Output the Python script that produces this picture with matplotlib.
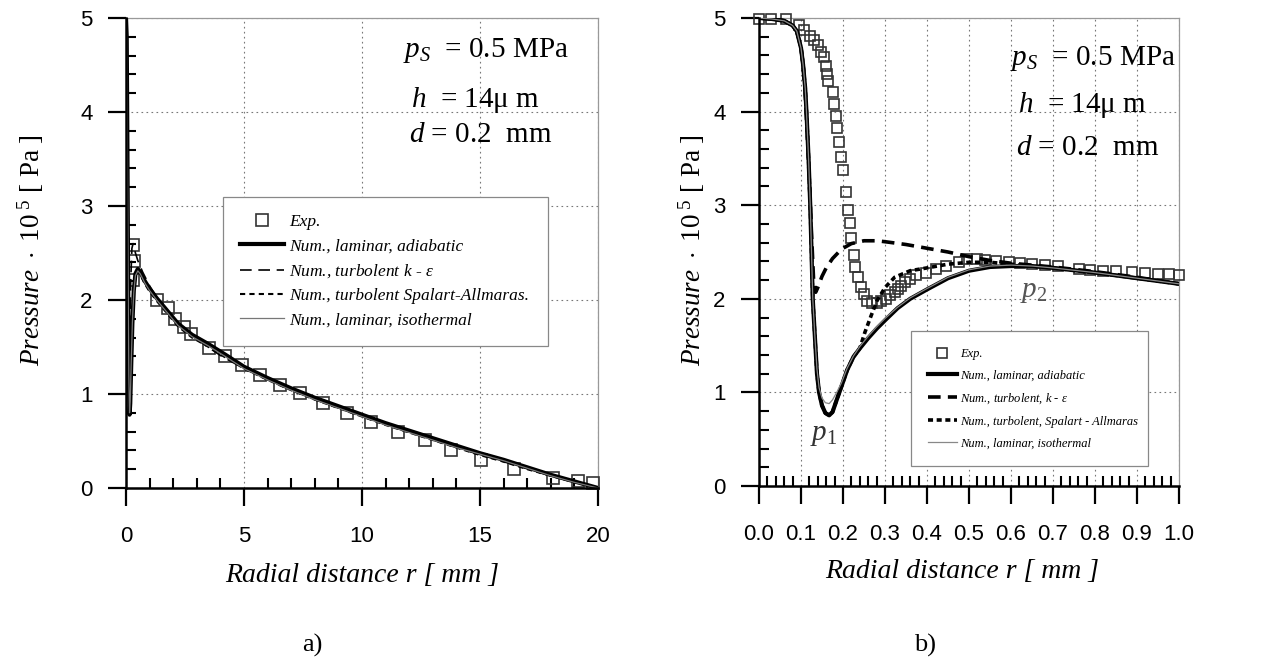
import matplotlib
matplotlib.use("Agg")
import matplotlib.pyplot as plt
from matplotlib.ticker import MultipleLocator, FormatStrFormatter

plt.rcParams['font.family'] = ['Liberation Sans', 'DejaVu Sans']
plt.rcParams['mathtext.fontset'] = 'custom'
plt.rcParams['mathtext.rm'] = 'Liberation Serif'
plt.rcParams['mathtext.it'] = 'Liberation Serif:italic'
plt.rcParams['mathtext.bf'] = 'Liberation Serif:bold'

SERIF = 'Liberation Serif'

# ---- panel a) : full radius 0..20 mm ----
a_exp_r = [0.28, 0.33, 0.30, 1.30, 1.79, 2.08, 2.45, 2.74, 3.52, 4.19, 4.90, 5.68, 6.53,
           7.37, 8.36, 9.35, 10.4, 11.54, 12.68, 13.77, 15.04, 16.43, 18.09, 19.15, 19.79]
a_exp_p = [2.58, 2.41, 2.21, 2.00, 1.91, 1.80, 1.71, 1.64, 1.49, 1.40, 1.31, 1.20, 1.10,
           1.01, 0.90, 0.80, 0.70, 0.60, 0.51, 0.40, 0.30, 0.20, 0.11, 0.07, 0.05]

a_r = [0, 0.03, 0.06, 0.09, 0.12, 0.15, 0.18, 0.22, 0.27, 0.33, 0.4, 0.5, 0.6, 0.8, 1.0,
       1.3, 1.7, 2.2, 2.8, 3.5, 4.2, 5.0, 6.0, 7.0, 8.0, 9.0, 10.0, 11.0, 12.0, 13.0,
       14.0, 15.0, 16.0, 17.0, 18.0, 19.0, 20.0]
a_adiab = [5.0, 4.8, 3.6, 2.2, 1.2, 0.78, 0.9, 1.3, 1.75, 2.1, 2.28, 2.33, 2.30, 2.2, 2.12,
           2.02, 1.9, 1.75, 1.63, 1.53, 1.42, 1.29, 1.17, 1.06, 0.96, 0.87, 0.78, 0.69,
           0.61, 0.53, 0.45, 0.37, 0.30, 0.22, 0.14, 0.07, 0.0]
a_spal = [5.0, 4.8, 3.6, 2.2, 1.2, 0.8, 0.95, 1.35, 1.78, 2.1, 2.27, 2.30, 2.27, 2.17, 2.09,
          1.99, 1.87, 1.72, 1.60, 1.50, 1.39, 1.27, 1.15, 1.04, 0.94, 0.85, 0.76, 0.67,
          0.59, 0.51, 0.43, 0.35, 0.28, 0.20, 0.13, 0.06, 0.0]
a_iso = [5.0, 4.8, 3.6, 2.2, 1.2, 0.8, 0.92, 1.32, 1.76, 2.08, 2.26, 2.31, 2.28, 2.18, 2.10,
         2.0, 1.88, 1.73, 1.61, 1.51, 1.40, 1.27, 1.15, 1.04, 0.94, 0.85, 0.76, 0.67,
         0.59, 0.51, 0.43, 0.36, 0.29, 0.21, 0.13, 0.06, 0.0]

a_ke_r = [0, 0.03, 0.06, 0.09, 0.12, 0.16, 0.2, 0.25, 0.3, 0.4, 0.5, 0.7, 1.0, 1.5, 2.2,
          3, 4, 5, 6, 7, 8, 9, 10, 12, 14, 16, 18, 20]
a_ke_p = [5, 4.8, 3.6, 2.3, 1.6, 1.7, 2.2, 2.55, 2.6, 2.5, 2.42, 2.3, 2.15, 1.95, 1.73,
          1.58, 1.41, 1.27, 1.15, 1.04, 0.94, 0.85, 0.76, 0.59, 0.43, 0.28, 0.13, 0.0]

# ---- panel b) : zoom 0..1 mm ----
b_exp_r = [0.0, 0.028, 0.065, 0.095, 0.108, 0.121, 0.130, 0.140, 0.147, 0.154, 0.159,
           0.163, 0.165, 0.175, 0.179, 0.184, 0.186, 0.191, 0.195, 0.200, 0.207, 0.212,
           0.216, 0.219, 0.226, 0.229, 0.235, 0.244, 0.250, 0.258, 0.268, 0.281, 0.291,
           0.302, 0.313, 0.323, 0.330, 0.338, 0.348, 0.359, 0.374, 0.398, 0.421, 0.446,
           0.475, 0.496, 0.518, 0.539, 0.564, 0.596, 0.621, 0.650, 0.682, 0.711, 0.761,
           0.789, 0.818, 0.850, 0.889, 0.920, 0.950, 0.975, 1.0]
b_exp_p = [4.99, 4.99, 4.99, 4.92, 4.87, 4.81, 4.76, 4.71, 4.64, 4.58, 4.49, 4.40, 4.33,
           4.21, 4.08, 3.95, 3.83, 3.68, 3.52, 3.38, 3.14, 2.95, 2.81, 2.65, 2.47, 2.34,
           2.23, 2.13, 2.05, 1.98, 1.95, 1.96, 1.98, 2.00, 2.04, 2.07, 2.11, 2.14, 2.18,
           2.21, 2.25, 2.28, 2.32, 2.35, 2.39, 2.42, 2.42, 2.41, 2.40, 2.39, 2.38, 2.37,
           2.36, 2.35, 2.32, 2.31, 2.30, 2.30, 2.29, 2.28, 2.27, 2.26, 2.25]

b_r = [0.0, 0.03, 0.06, 0.08, 0.09, 0.1, 0.105, 0.11, 0.113, 0.118, 0.122, 0.125, 0.128,
       0.133, 0.138, 0.143, 0.15, 0.158, 0.167, 0.175, 0.185, 0.196, 0.21, 0.225, 0.24,
       0.26, 0.28, 0.3, 0.33, 0.36, 0.4, 0.45, 0.5, 0.55, 0.6, 0.65, 0.7, 0.8, 0.9, 1.0]
b_adiab = [5.0, 4.99, 4.97, 4.92, 4.86, 4.68, 4.5, 4.25, 4.0, 3.5, 3.0, 2.5, 2.0, 1.6,
           1.2, 1.0, 0.86, 0.78, 0.755, 0.79, 0.92, 1.06, 1.24, 1.38, 1.47, 1.58, 1.68,
           1.77, 1.9, 2.0, 2.1, 2.22, 2.3, 2.34, 2.35, 2.35, 2.33, 2.28, 2.22, 2.16]
b_iso = [5.0, 4.99, 4.97, 4.92, 4.86, 4.68, 4.5, 4.25, 4.0, 3.5, 3.0, 2.5, 2.0, 1.6,
         1.25, 1.05, 0.94, 0.89, 0.88, 0.92, 1.0, 1.1, 1.26, 1.39, 1.49, 1.60, 1.70,
         1.79, 1.91, 2.01, 2.11, 2.23, 2.31, 2.35, 2.36, 2.35, 2.33, 2.28, 2.22, 2.16]

b_ke_r = [0.0, 0.04, 0.06, 0.08, 0.09, 0.1, 0.105, 0.11, 0.115, 0.12, 0.125, 0.13, 0.135,
          0.14, 0.15, 0.16, 0.175, 0.19, 0.2, 0.22, 0.25, 0.28, 0.3, 0.35, 0.4, 0.45,
          0.5, 0.55, 0.6, 0.65, 0.7, 0.8, 0.9, 1.0]
b_ke_p = [5.0, 4.99, 4.97, 4.92, 4.86, 4.68, 4.5, 4.2, 3.75, 3.25, 2.7, 2.2, 2.07, 2.12,
          2.24, 2.33, 2.43, 2.5, 2.54, 2.59, 2.62, 2.62, 2.61, 2.58, 2.54, 2.50, 2.45,
          2.41, 2.38, 2.36, 2.34, 2.29, 2.23, 2.16]

b_sa_r = [0.0, 0.03, 0.06, 0.08, 0.09, 0.1, 0.105, 0.11, 0.113, 0.118, 0.122, 0.125, 0.128,
          0.133, 0.138, 0.143, 0.15, 0.158, 0.167, 0.175, 0.185, 0.196, 0.21, 0.225, 0.24,
          0.252, 0.267, 0.281, 0.3, 0.323, 0.36, 0.4, 0.45, 0.5, 0.55, 0.6, 0.7, 0.8,
          0.9, 1.0]
b_sa_p = [5.0, 4.99, 4.97, 4.92, 4.86, 4.68, 4.5, 4.25, 4.0, 3.5, 3.0, 2.5, 2.0, 1.6,
          1.2, 1.0, 0.86, 0.78, 0.755, 0.79, 0.92, 1.06, 1.24, 1.38, 1.47, 1.64, 1.82,
          1.98, 2.12, 2.23, 2.30, 2.33, 2.37, 2.39, 2.39, 2.37, 2.33, 2.28, 2.22, 2.16]

labels_a = ['Exp.', 'Num., laminar, adiabatic', 'Num., turbolent $k$ - ε',
            'Num., turbolent Spalart-Allmaras.', 'Num., laminar, isothermal']
labels_b = ['Exp.', 'Num., laminar, adiabatic', 'Num., turbolent, $k$ - ε',
            'Num., turbolent, Spalart - Allmaras', 'Num., laminar, isothermal']

W, H = 1262, 662
fig = plt.figure(figsize=(W / 100, H / 100), dpi=100)


def px(x, y):
    return x / W, 1 - y / H


def style_axes(ax, xmaj, xmin, fmt):
    ax.set_ylim(0, 5)
    ax.yaxis.set_major_locator(MultipleLocator(1))
    ax.yaxis.set_minor_locator(MultipleLocator(0.2))
    ax.xaxis.set_major_locator(MultipleLocator(xmaj))
    ax.xaxis.set_minor_locator(MultipleLocator(xmin))
    ax.xaxis.set_major_formatter(FormatStrFormatter(fmt))
    ax.yaxis.set_major_formatter(FormatStrFormatter('%d'))
    ax.tick_params(which='major', direction='out', length=13, width=1.6,
                   labelsize=16, colors='black')
    ax.tick_params(axis='x', which='major', pad=14)
    ax.tick_params(axis='y', which='major', pad=11)
    ax.tick_params(which='minor', direction='in', length=7.5, width=1.5)
    for s in ('left', 'bottom'):
        ax.spines[s].set_linewidth(1.8)
        ax.spines[s].set_zorder(5)
    for s in ('top', 'right'):
        ax.spines[s].set_linewidth(0.9)
        ax.spines[s].set_color('#999999')
    ax.grid(which='major', linestyle=(0, (1.5, 3)), color='#777777', linewidth=0.8)
    ax.set_axisbelow(True)


# ---------- left panel ----------
axL = fig.add_axes([126 / W, 1 - 488 / H, 472 / W, 470 / H])
axL.set_xlim(0, 20)
style_axes(axL, 5, 1, '%d')

axL.plot(a_exp_r, a_exp_p, ls='none', marker='s', ms=8, mfc='none', mec='#333333',
         mew=1.2, clip_on=False, label=labels_a[0], zorder=3)
axL.plot(a_r, a_adiab, color='black', lw=3.0, label=labels_a[1], zorder=4)
axL.plot(a_ke_r, a_ke_p, color='black', lw=1.2, dashes=(7, 4), label=labels_a[2], zorder=4)
axL.plot(a_r, a_spal, color='black', lw=1.5, dashes=(2.5, 2), label=labels_a[3], zorder=4)
axL.plot(a_r, a_iso, color='#777777', lw=0.9, label=labels_a[4], zorder=4)

legL = axL.legend(loc='upper left', bbox_to_anchor=(0.205, 0.304, 0.689, 0.316),
                  mode='expand', borderaxespad=0, fancybox=False, framealpha=1,
                  edgecolor='#888888', handlelength=2.5, handletextpad=0.3,
                  labelspacing=0.46, borderpad=1.0,
                  prop={'family': SERIF, 'style': 'italic', 'size': 12.5})
legL.get_frame().set_linewidth(0.9)

# ---------- right panel ----------
axR = fig.add_axes([759 / W, 1 - 486 / H, 420 / W, 468 / H])
axR.set_xlim(0, 1.0)
style_axes(axR, 0.1, 0.02, '%.1f')

axR.plot(b_exp_r, b_exp_p, ls='none', marker='s', ms=7, mfc='none', mec='#333333',
         mew=1.2, clip_on=False, label=labels_b[0], zorder=3)
axR.plot(b_r, b_adiab, color='black', lw=3.0, label=labels_b[1], zorder=4)
axR.plot(b_ke_r, b_ke_p, color='black', lw=2.6, dashes=(3.5, 2), label=labels_b[2], zorder=4)
axR.plot(b_sa_r, b_sa_p, color='black', lw=2.6, dashes=(1.4, 1.0), label=labels_b[3], zorder=4)
axR.plot(b_r, b_iso, color='#888888', lw=0.9, label=labels_b[4], zorder=4)

legR = axR.legend(loc='upper left', bbox_to_anchor=(0.362, 0.041, 0.564, 0.29),
                  mode='expand', borderaxespad=0, fancybox=False, framealpha=1,
                  edgecolor='#888888', handlelength=2.3, handletextpad=0.3,
                  labelspacing=0.78, borderpad=1.35,
                  prop={'family': SERIF, 'style': 'italic', 'size': 9.0})
legR.get_frame().set_linewidth(0.9)

# ---------- parameter texts ----------
ann = dict(family=SERIF, fontsize=21, ha='left', va='baseline')
for x0, ys in ((403, (57, 107, 142)), (1010, (65, 112, 155))):
    fig.text(*px(x0, ys[0]), r'$p_S$  = 0.5 MPa', **ann)
    fig.text(*px(x0 + 8, ys[1]), r'$h$  = 14μ m', **ann)
    fig.text(*px(x0 + 6, ys[2]), r'$d$ = 0.2  mm', **ann)

fig.text(*px(824, 440), r'$p_1$', family=SERIF, fontsize=21, color='#333333',
         ha='center', va='baseline')
fig.text(*px(1034, 297), r'$p_2$', family=SERIF, fontsize=21, color='#555555',
         ha='center', va='baseline')

# ---------- axis labels ----------
ylab = r'$\mathit{Pressure}\ \cdot\ \mathit{10}^{\ \mathit{5}}\ \mathit{[}\ \mathrm{Pa}\ \mathit{]}$'
fig.text(*px(31, 250), ylab, rotation=90, fontsize=19.5, ha='center', va='center')
fig.text(*px(692, 250), ylab, rotation=90, fontsize=19.5, ha='center', va='center')

xlab = 'Radial distance r [ mm ]'
fig.text(*px(362, 575), xlab, family=SERIF, style='italic', fontsize=20,
         ha='center', va='center')
fig.text(*px(962, 571), xlab, family=SERIF, style='italic', fontsize=20,
         ha='center', va='center')

fig.text(*px(312, 645), 'a)', family=SERIF, fontsize=19, ha='center', va='center')
fig.text(*px(925, 645), 'b)', family=SERIF, fontsize=19, ha='center', va='center')

fig.savefig('out.png', dpi=100)
plt.close(fig)
